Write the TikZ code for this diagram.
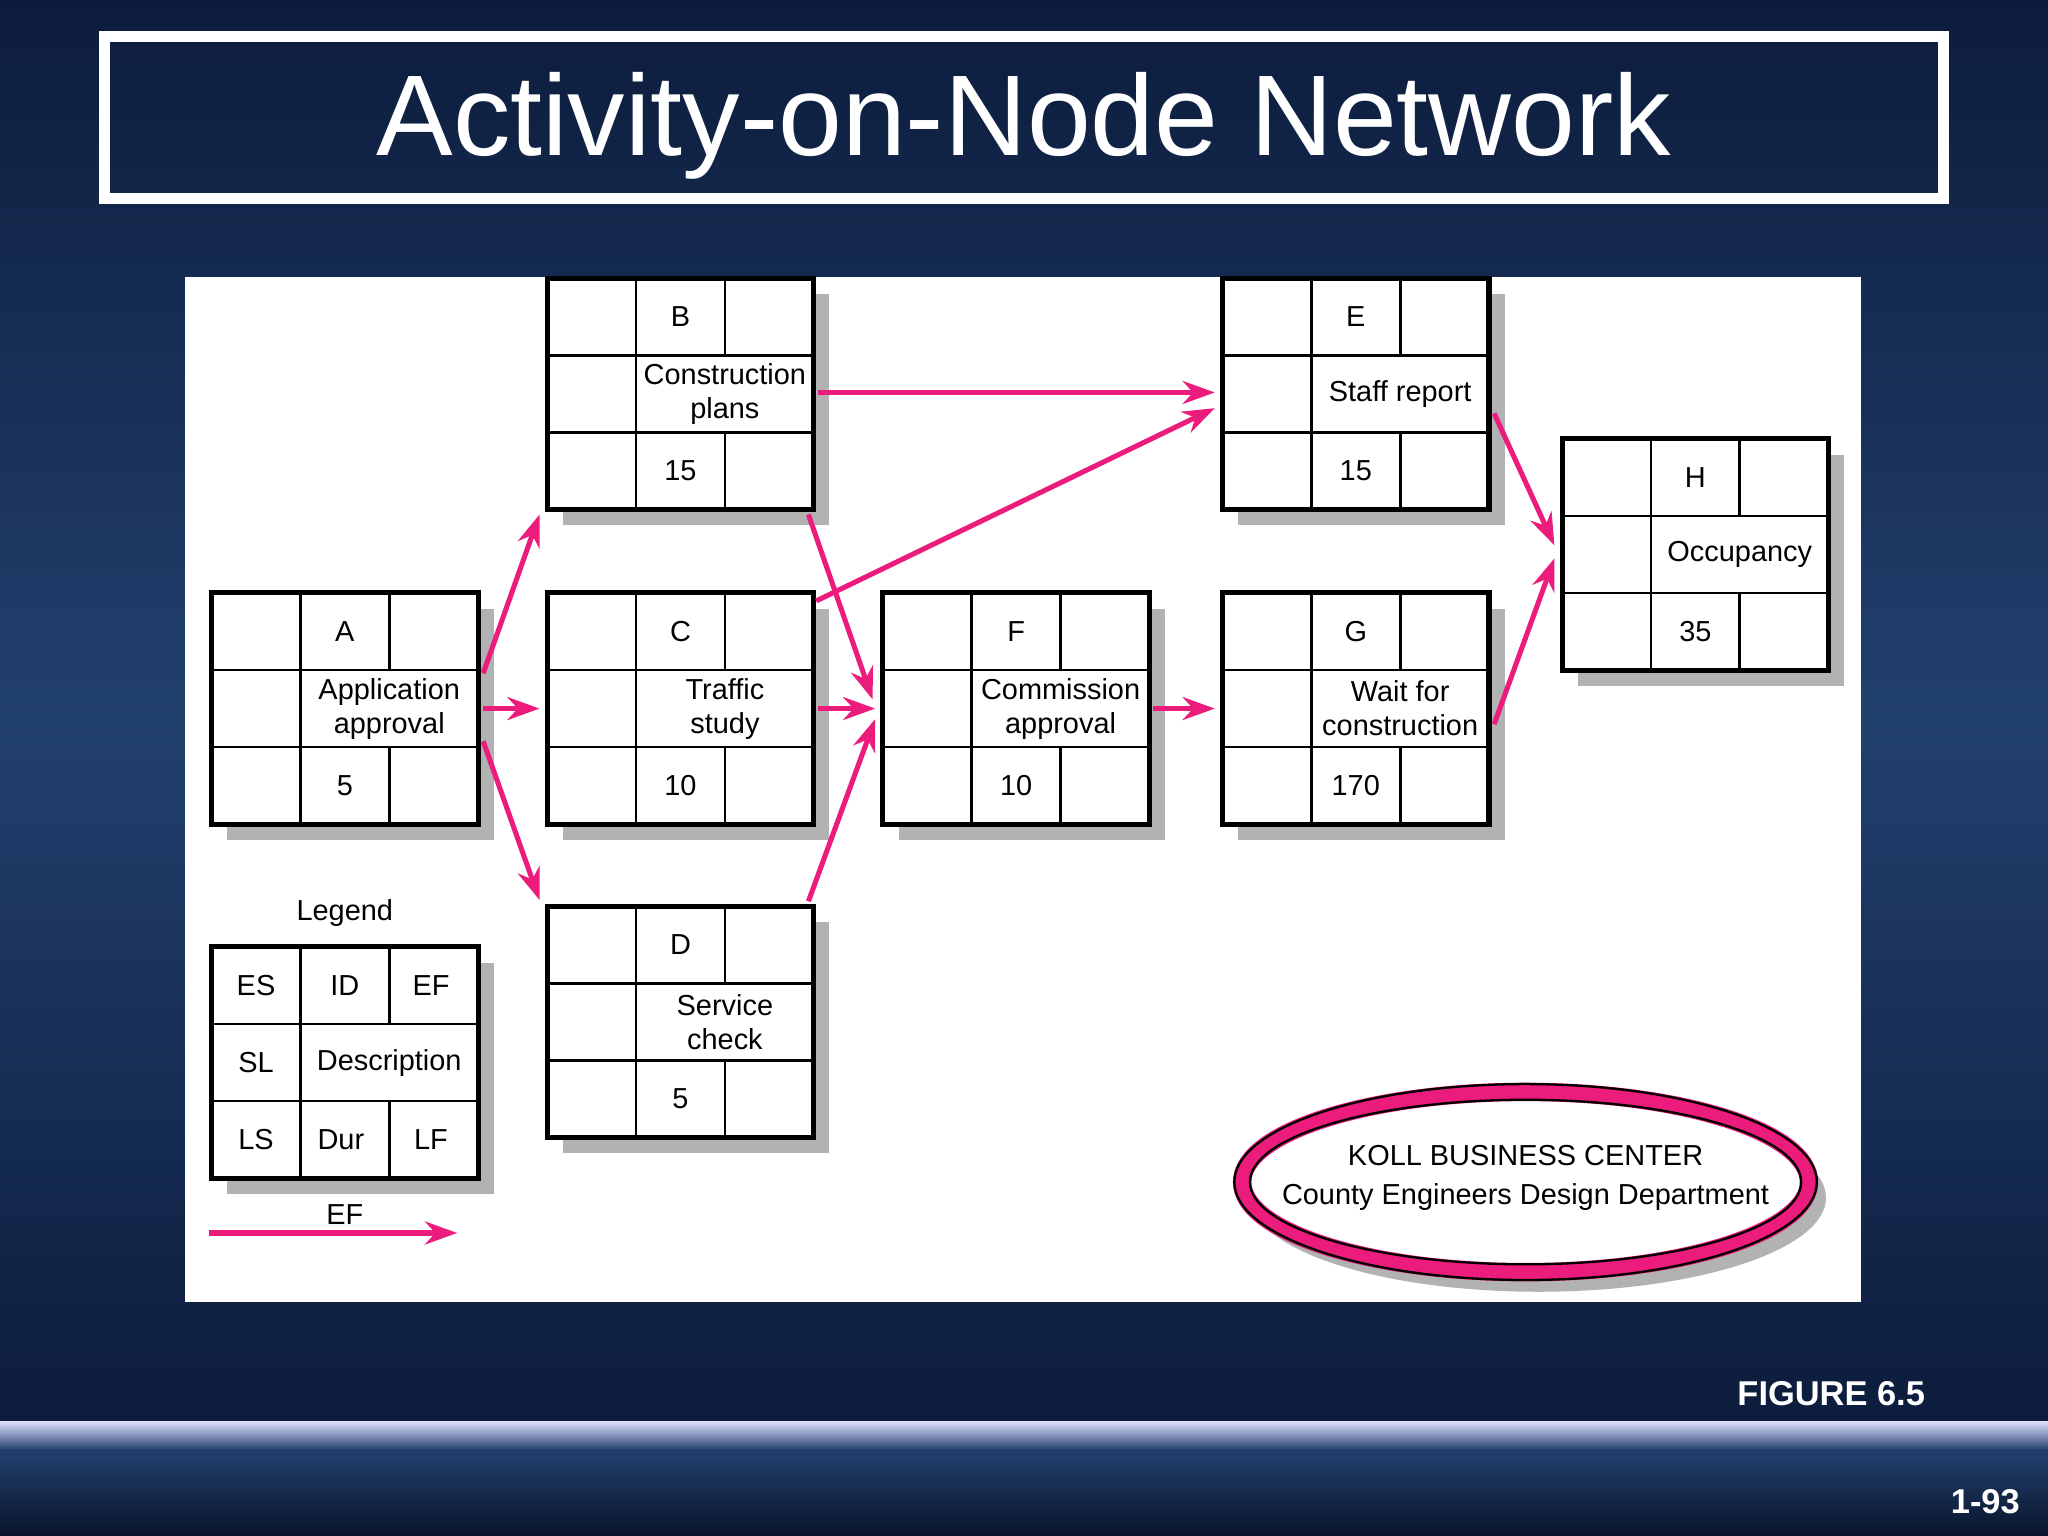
\documentclass[tikz,border=0pt]{standalone}
\usepackage{fontspec}
\setmainfont{Liberation Sans}
\usetikzlibrary{calc,arrows.meta}
\definecolor{mag}{HTML}{EC1C7C}
\definecolor{bgtop}{HTML}{0C1C3C}
\definecolor{bgmid}{HTML}{22406E}
\tikzset{
 bx/.style={draw=black,line width=1.1pt,fill=white,minimum width=2.04cm,minimum height=1.77cm,inner sep=0pt},
 sh/.style={fill=black!30},
 gl/.style={line width=0.6pt},
 tx/.style={font=\fontsize{6.3}{7.4}\selectfont,align=center,inner sep=0pt},
 ar/.style={draw=mag,line width=1.1pt,-{Stealth[length=7pt,width=5pt]}}
}
\newcommand\actbox[6]{%
 \fill[sh] (#2-1.02+0.12,#3-0.885-0.12) rectangle (#2+1.02+0.12,#3+0.885-0.12);
 \node[bx] (#1) at (#2,#3) {};
 \draw[gl] (#2-1.02,#3+0.295) -- (#2+1.02,#3+0.295)
           (#2-1.02,#3-0.295) -- (#2+1.02,#3-0.295)
           (#2-0.34,#3+0.885) -- (#2-0.34,#3-0.885)
           (#2+0.34,#3+0.885) -- (#2+0.34,#3+0.295)
           (#2+0.34,#3-0.295) -- (#2+0.34,#3-0.885);
 \node[tx] at (#2,#3+0.59) {#4};
 \node[tx] at (#2+0.34,#3) {#5};
 \node[tx] at (#2,#3-0.59) {#6};
}
\begin{document}
\begin{tikzpicture}
\useasboundingbox (0,0) rectangle (15.68,-11.76);
\shade[top color=bgtop,bottom color=bgmid] (0,0) rectangle (15.68,-5.5);
\shade[top color=bgmid,bottom color=bgtop] (0,-5.5) rectangle (15.68,-10.88);
\shade[top color=white!80!blue!60,bottom color=bgmid] (0,-10.88) rectangle (15.68,-11.1);
\shade[top color=bgmid,bottom color=bgtop!70!black] (0,-11.1) rectangle (15.68,-11.76);
\draw[white,line width=2.5pt] (0.8,-0.28) rectangle (14.88,-1.52);
\node[white,font=\fontsize{25}{28}\selectfont] (title) at (7.84,-0.96) {Activity-on-Node Network};
\fill[white] (1.42,-2.12) rectangle (14.25,-9.97);
\actbox{A}{2.64}{-5.425}{A}{Application\\approval}{5}
\actbox{B}{5.21}{-3.015}{B}{Construction\\plans}{15}
\actbox{C}{5.21}{-5.425}{C}{Traffic\\study}{10}
\actbox{D}{5.21}{-7.825}{D}{Service\\check}{5}
\actbox{E}{10.38}{-3.015}{E}{Staff report}{15}
\actbox{F}{7.78}{-5.425}{F}{Commission\\approval}{10}
\actbox{G}{10.38}{-5.425}{G}{Wait for\\construction}{170}
\actbox{H}{12.98}{-4.245}{H}{Occupancy}{35}
% legend
\fill[sh] (1.62+0.12,-7.25-0.12) rectangle (3.66+0.12,-9.02-0.12);
\node[bx] (L) at (2.64,-8.135) {};
\draw[gl] (1.62,-7.84)--(3.66,-7.84) (1.62,-8.43)--(3.66,-8.43)
 (2.30,-7.25)--(2.30,-9.02) (2.98,-7.25)--(2.98,-7.84) (2.98,-8.43)--(2.98,-9.02);
\node[tx] at (1.96,-7.545) {ES};
\node[tx] at (2.64,-7.545) {ID};
\node[tx] at (3.30,-7.545) {EF};
\node[tx] at (1.96,-8.135) {SL};
\node[tx] at (2.98,-8.135) {Description};
\node[tx] at (1.96,-8.725) {LS};
\node[tx] at (2.61,-8.725) {Dur};
\node[tx] at (3.30,-8.725) {LF};
\node[tx] (legt) at (2.64,-6.99) {Legend};
\coordinate (l1) at (1.60,-9.44); \coordinate (l2) at (3.50,-9.44);
\draw[ar] (l1) -- (l2);
\node[tx] (eflab) at (2.64,-9.30) {EF};
% arrows
\draw[ar] ($(A.east)+(0.02,0.27)$) -- ($(B.south west)+(-0.04,-0.02)$);
\draw[ar] ($(A.east)+(0.02,0)$) -- ($(C.west)+(-0.04,0)$);
\draw[ar] ($(A.east)+(0.02,-0.25)$) -- ($(D.north west)+(-0.04,0.03)$);
\draw[ar] ($(B.east)+(0.01,0.01)$) -- ($(E.west)+(-0.04,0.01)$);
\draw[ar] ($(B.south east)+(-0.06,-0.02)$) -- ($(F.west)+(-0.06,0.07)$);
\draw[ar] ($(C.north east)+(0,-0.08)$) -- ($(E.west)+(-0.04,-0.11)$);
\draw[ar] ($(C.east)+(0.01,0)$) -- ($(F.west)+(-0.04,0)$);
\draw[ar] ($(D.north east)+(-0.06,0.02)$) -- ($(F.west)+(-0.04,-0.08)$);
\draw[ar] ($(F.east)+(0.01,0)$) -- ($(G.west)+(-0.04,0)$);
\draw[ar] ($(E.east)+(0.02,-0.15)$) -- ($(H.west)+(-0.04,0.07)$);
\draw[ar] ($(G.east)+(0.02,-0.12)$) -- ($(H.west)+(-0.04,-0.03)$);
% ellipse
\fill[black!30] (11.78,-9.17) ellipse (2.2cm and 0.72cm);
\draw[mag,line width=4pt,fill=white] (11.68,-9.05) ellipse (2.17cm and 0.69cm);
\draw[black,line width=0.5pt] (11.68,-9.05) ellipse (2.23cm and 0.75cm);
\draw[black,line width=0.5pt] (11.68,-9.05) ellipse (2.11cm and 0.63cm);
\node[tx] (koll) at (11.68,-9.02) {KOLL BUSINESS CENTER\\[1pt]County Engineers Design Department};
\node[white,font=\bfseries\fontsize{7.5}{9}\selectfont] (fig) at (14.02,-10.67) {FIGURE 6.5};
\node[white,font=\bfseries\fontsize{7.5}{9}\selectfont] (pg) at (15.2,-11.5) {1-93};
\end{tikzpicture}
\end{document}
